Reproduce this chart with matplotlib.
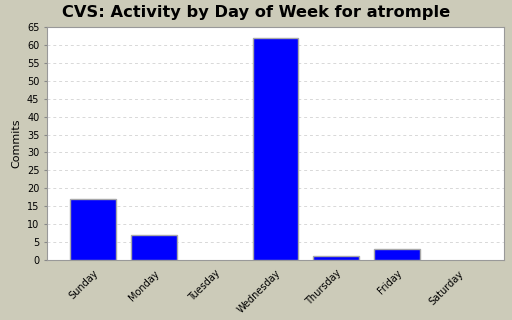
import matplotlib
matplotlib.use("Agg")
import matplotlib.pyplot as plt

days = ['Sunday', 'Monday', 'Tuesday', 'Wednesday', 'Thursday', 'Friday', 'Saturday']
commits = [17, 7, 0, 62, 1, 3, 0]
yticks = list(range(0, 66, 5))

bg = '#cccbb9'

fig = plt.figure(figsize=(5.12, 3.2), dpi=100, facecolor=bg)
ax = fig.add_axes([47 / 512, 60 / 320, 457 / 512, 233 / 320])

w = 0.754
bars = ax.bar(range(len(days)), commits, width=w, color='#0000ff',
              edgecolor='#a8a8a8', linewidth=1.0, zorder=3)
# no outline on empty days
for b, v in zip(bars, commits):
    if v == 0:
        b.set_linewidth(0)

ax.set_xlim(-w, len(days) - 1 + w)
ax.set_ylim(0, 65)
ax.set_yticks(yticks)
ax.set_xticks(range(len(days)))
ax.set_xticklabels(days, rotation=45, ha='right', rotation_mode='anchor', fontsize=7)
ax.tick_params(axis='y', labelsize=7, length=2, color='#888888')
ax.tick_params(axis='x', length=0, pad=6)
ax.yaxis.grid(True, linestyle=(0, (3, 3)), color='#d8d8d8', linewidth=0.7, zorder=0)

for s in ax.spines.values():
    s.set_color('#999999')
    s.set_linewidth(0.8)

ax.set_ylabel('Commits', fontsize=8)
fig.text(0.5, 0.962, 'CVS: Activity by Day of Week for atromple',
         ha='center', va='center', fontsize=11.7, fontweight='bold')

fig.savefig('out.png', dpi=100, facecolor=bg)
